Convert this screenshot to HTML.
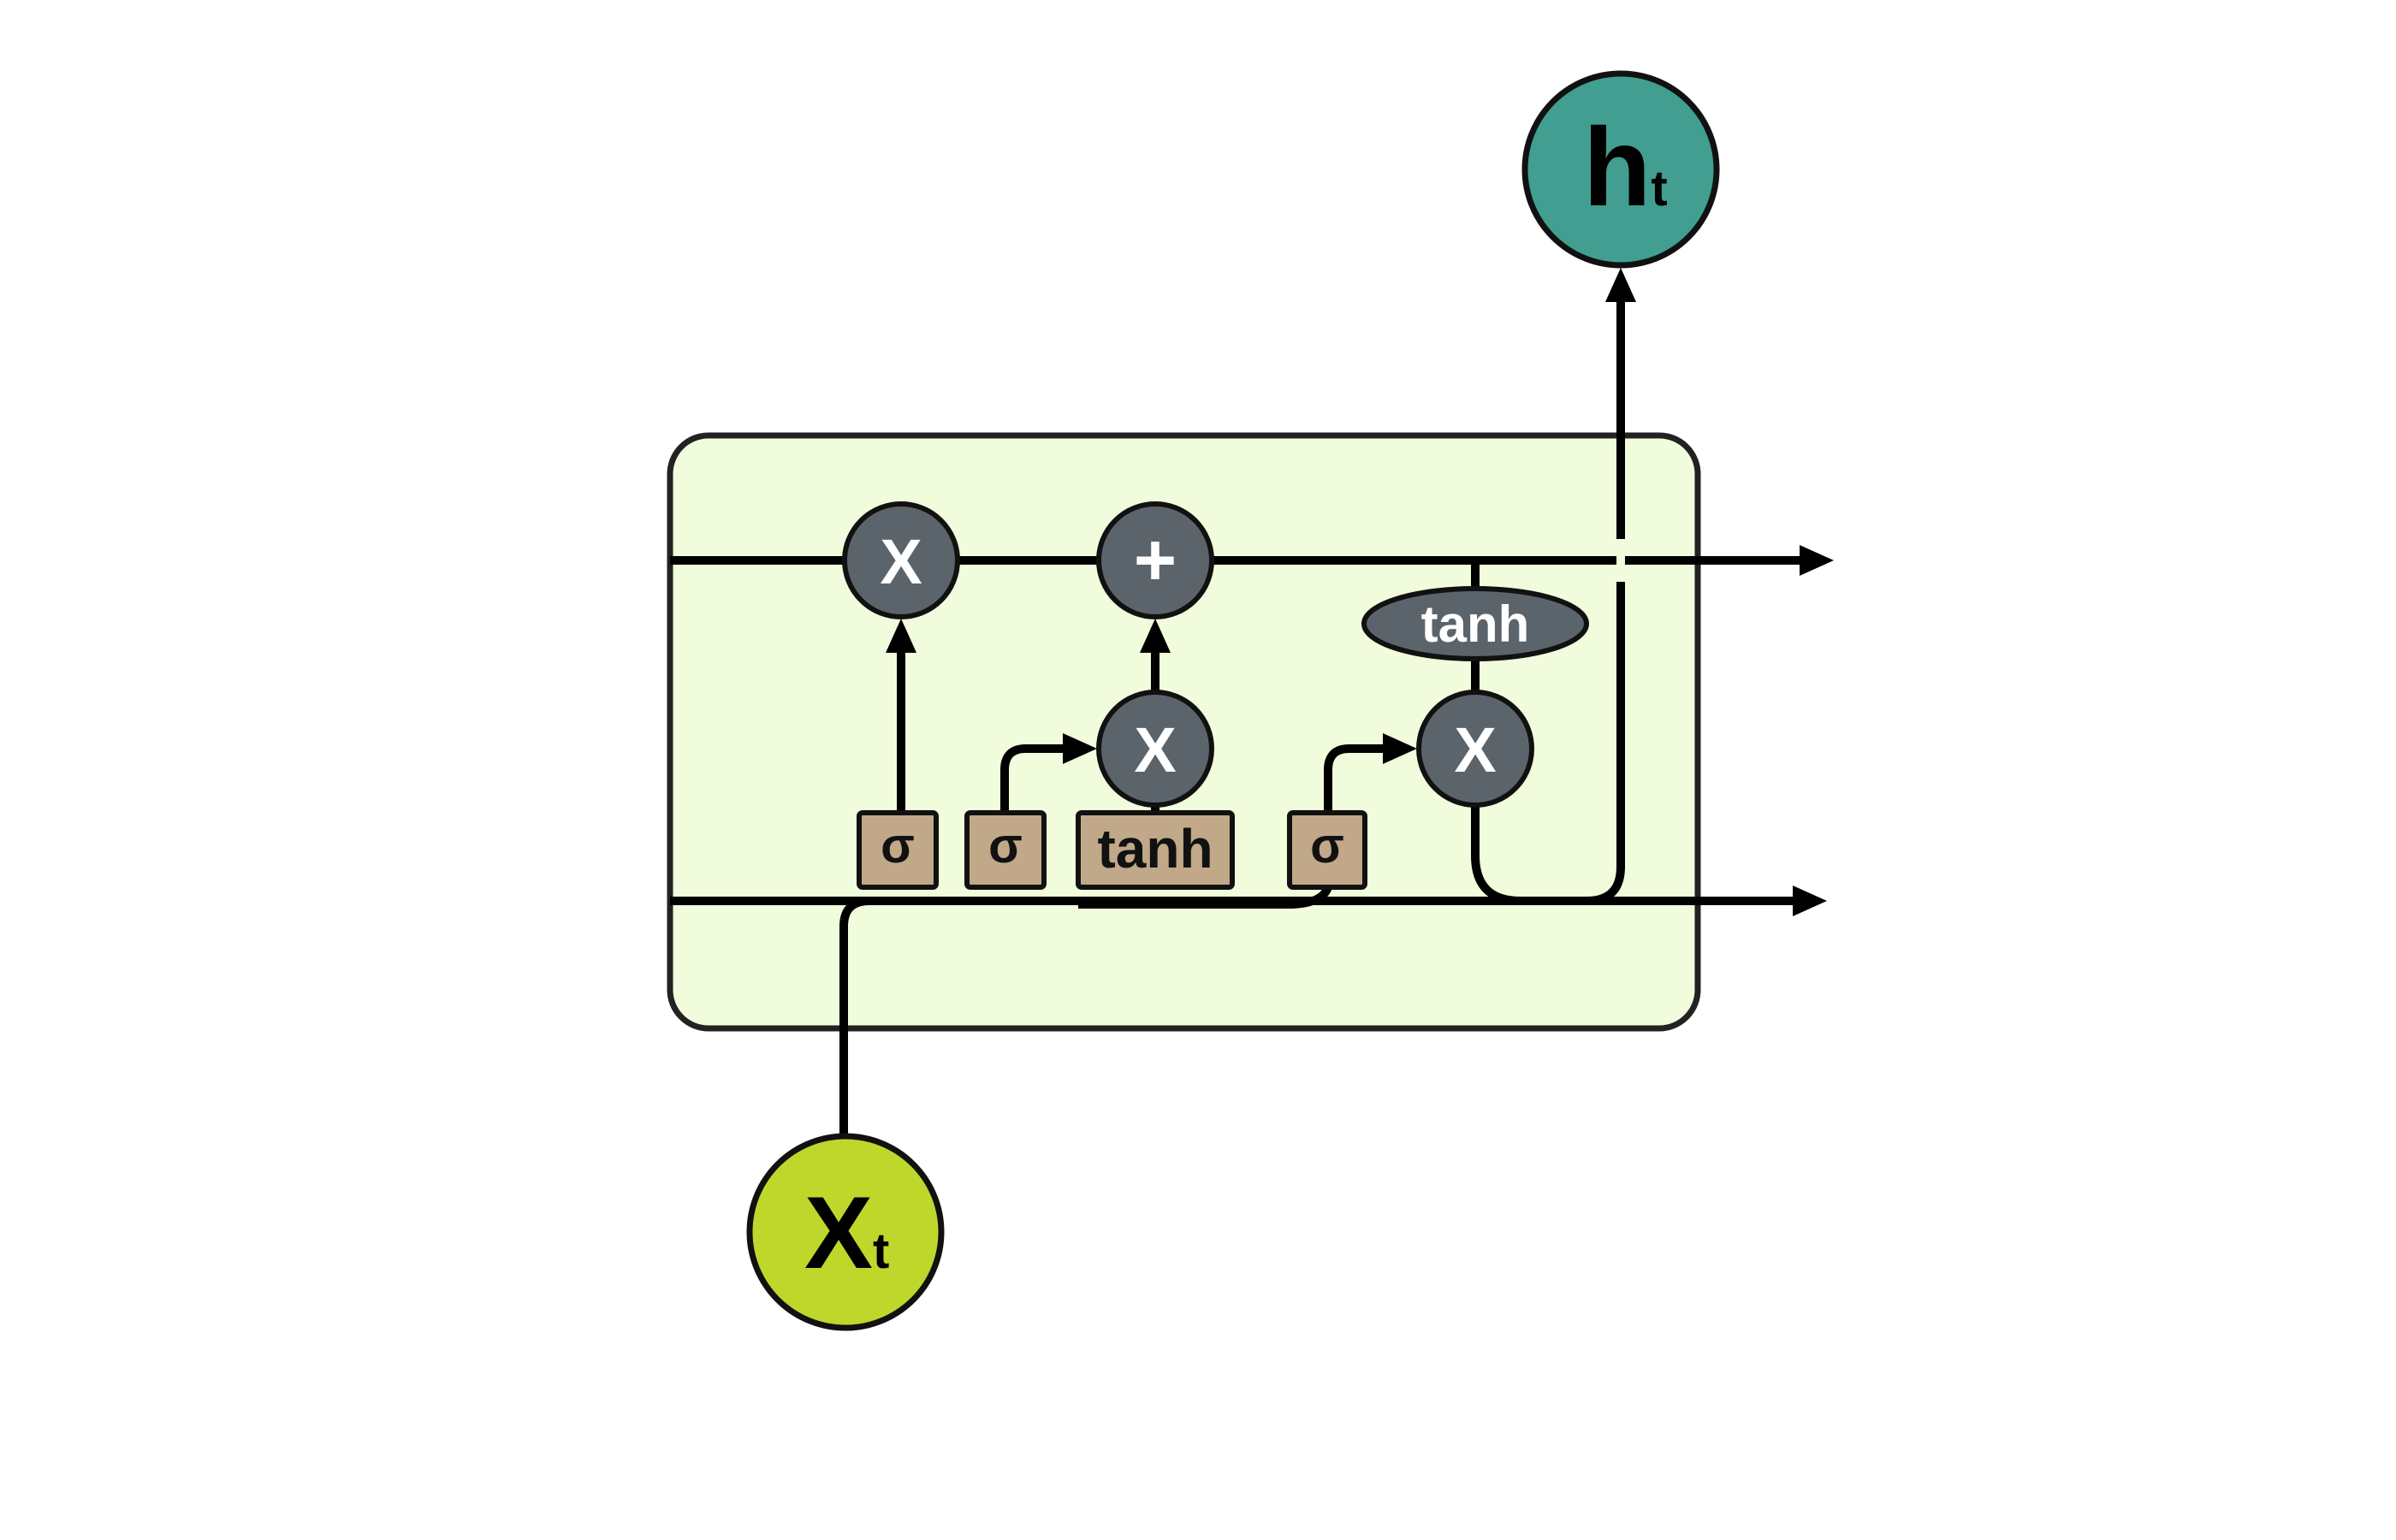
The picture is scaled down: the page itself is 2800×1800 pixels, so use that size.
<!DOCTYPE html>
<html><head><meta charset="utf-8"><style>
html,body{margin:0;padding:0;background:#fff;}
svg{display:block;}
text{font-family:"Liberation Sans","DejaVu Sans",sans-serif;font-weight:bold;}
</style></head><body>
<svg width="2800" height="1800" viewBox="0 0 2800 1800">
<defs>
<marker id="ah" markerWidth="4" markerHeight="3.6" refX="0.1" refY="1.8" orient="auto" markerUnits="strokeWidth">
<path d="M0,0 L4,1.8 L0,3.6 Z" fill="#000"/></marker>
</defs>
<rect x="783" y="509" width="1201" height="693" rx="45" fill="#f0fcdc" stroke="#222" stroke-width="7"/>
<g fill="none" stroke="#000" stroke-width="10">
<line x1="783" y1="655" x2="2104" y2="655" marker-end="url(#ah)"/>
<line x1="783" y1="1053" x2="2096" y2="1053" marker-end="url(#ah)"/>
<path d="M986,1328 L986,1083 Q986,1053 1016,1053"/>
<path d="M1260,1057 L1505,1057 Q1545,1057 1552,1037"/>
<line x1="1053" y1="950" x2="1053" y2="762" marker-end="url(#ah)"/>
<path d="M1174,950 L1174,900 Q1174,875 1199,875 L1243,875" marker-end="url(#ah)"/>
<line x1="1350" y1="950" x2="1350" y2="941"/>
<line x1="1350" y1="809" x2="1350" y2="762" marker-end="url(#ah)"/>
<path d="M1552,950 L1552,900 Q1552,875 1577,875 L1617,875" marker-end="url(#ah)"/>
<line x1="1724" y1="809" x2="1724" y2="770"/>
<line x1="1724" y1="688" x2="1724" y2="655"/>
<path d="M1724,941 L1724,1000 Q1724,1053 1777,1053 L1854,1053 Q1894,1053 1894,1013 L1894,680"/>
<line x1="1894" y1="630" x2="1894" y2="352" marker-end="url(#ah)"/>
</g>
<line x1="1894" y1="643" x2="1894" y2="667" stroke="#f0fcdc" stroke-width="10"/>
<g stroke="#111" stroke-width="6">
<circle cx="1053" cy="655" r="66" fill="#5c646b"/>
<circle cx="1350" cy="655" r="66" fill="#5c646b"/>
<circle cx="1350" cy="875" r="66" fill="#5c646b"/>
<circle cx="1724" cy="875" r="66" fill="#5c646b"/>
<ellipse cx="1724" cy="729" rx="130" ry="41" fill="#5c646b"/>
<rect x="1004" y="950" width="90" height="87" fill="#c0a888" rx="4"/>
<rect x="1130" y="950" width="90" height="87" fill="#c0a888" rx="4"/>
<rect x="1260" y="950" width="180" height="87" fill="#c0a888" rx="4"/>
<rect x="1507" y="950" width="88" height="87" fill="#c0a888" rx="4"/>
<circle cx="1894" cy="198" r="112" fill="#419e90" stroke-width="7"/>
<circle cx="988" cy="1440" r="112" fill="#bfd72b" stroke-width="7"/>
</g>
<g fill="#fff" text-anchor="middle" font-size="74">
<text x="1053" y="682">X</text>
<text x="1350" y="684" font-size="86">+</text>
<text x="1350" y="902">X</text>
<text x="1724" y="902">X</text>
<text x="1724" y="750" font-size="60">tanh</text>
</g>
<g fill="#111" text-anchor="middle" font-size="58">
<text x="1049" y="1008">σ</text>
<text x="1175" y="1008">σ</text>
<text x="1350" y="1014" font-size="64">tanh</text>
<text x="1551" y="1008">σ</text>
</g>
<text x="1850" y="240" font-size="130" fill="#000">h<tspan font-size="58">t</tspan></text>
<text x="940" y="1482" font-size="120" fill="#000">X<tspan font-size="58">t</tspan></text>
</svg>
</body></html>
